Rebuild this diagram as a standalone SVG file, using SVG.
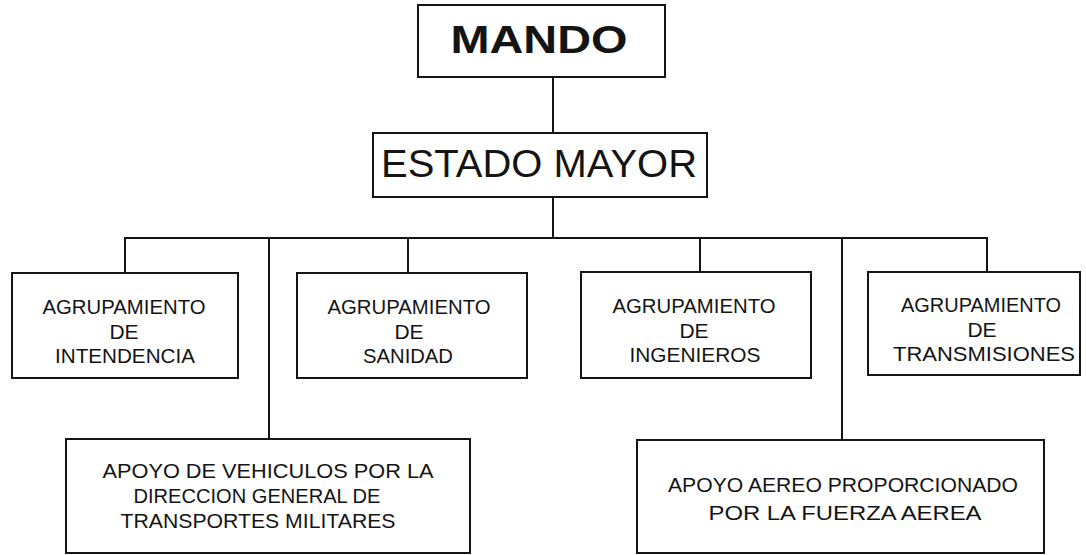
<svg xmlns="http://www.w3.org/2000/svg" width="1086" height="555" viewBox="0 0 1086 555">
<style>
.box{fill:#fff;stroke:#141414;stroke-width:2}
.conn{fill:none;stroke:#141414;stroke-width:2}
text{font-family:"Liberation Sans",Arial,sans-serif;fill:#141414;text-anchor:middle}
.t21{font-size:21px}
</style>
<rect width="1086" height="555" fill="#fff"/>
<g id="connectors">
<path class="conn" d="M553,77 V133"/>
<path class="conn" d="M553,197 V238"/>
<path class="conn" d="M125,273 V238 H987 V272"/>
<path class="conn" d="M408,238 V273"/>
<path class="conn" d="M700,238 V272"/>
<path class="conn" d="M269,238 V439"/>
<path class="conn" d="M842,238 V440"/>
</g>
<g id="mando">
<rect class="box" x="418" y="5" width="247" height="72"/>
<text x="539" y="53" font-size="38" font-weight="bold" textLength="177" lengthAdjust="spacingAndGlyphs">MANDO</text>
</g>
<g id="estado-mayor">
<rect class="box" x="373" y="133" width="334" height="64"/>
<text x="539" y="177" font-size="39" textLength="316" lengthAdjust="spacingAndGlyphs">ESTADO MAYOR</text>
</g>
<g id="intendencia">
<rect class="box" x="12" y="273" width="226" height="105"/>
<text class="t21" x="124" y="314" textLength="163" lengthAdjust="spacingAndGlyphs">AGRUPAMIENTO</text>
<text class="t21" x="124" y="339">DE</text>
<text class="t21" x="125" y="363" textLength="140" lengthAdjust="spacingAndGlyphs">INTENDENCIA</text>
</g>
<g id="sanidad">
<rect class="box" x="297" y="273" width="230" height="105"/>
<text class="t21" x="409" y="314" textLength="163" lengthAdjust="spacingAndGlyphs">AGRUPAMIENTO</text>
<text class="t21" x="409" y="339">DE</text>
<text class="t21" x="408" y="363" textLength="90" lengthAdjust="spacingAndGlyphs">SANIDAD</text>
</g>
<g id="ingenieros">
<rect class="box" x="581" y="272" width="230" height="106"/>
<text class="t21" x="694" y="313" textLength="163" lengthAdjust="spacingAndGlyphs">AGRUPAMIENTO</text>
<text class="t21" x="694" y="338">DE</text>
<text class="t21" x="695" y="362" textLength="131" lengthAdjust="spacingAndGlyphs">INGENIEROS</text>
</g>
<g id="transmisiones">
<rect class="box" x="868" y="272" width="212" height="103"/>
<text class="t21" x="981" y="312" textLength="160" lengthAdjust="spacingAndGlyphs">AGRUPAMIENTO</text>
<text class="t21" x="982" y="337">DE</text>
<text class="t21" x="984" y="361" textLength="182" lengthAdjust="spacingAndGlyphs">TRANSMISIONES</text>
</g>
<g id="vehiculos">
<rect class="box" x="66" y="439" width="404" height="114"/>
<text class="t21" x="268" y="478" textLength="331" lengthAdjust="spacingAndGlyphs">APOYO DE VEHICULOS POR LA</text>
<text class="t21" x="257" y="503" textLength="247" lengthAdjust="spacingAndGlyphs">DIRECCION GENERAL DE</text>
<text class="t21" x="258" y="528" textLength="275" lengthAdjust="spacingAndGlyphs">TRANSPORTES MILITARES</text>
</g>
<g id="aereo">
<rect class="box" x="637" y="440" width="407" height="113"/>
<text class="t21" x="843" y="492" textLength="350" lengthAdjust="spacingAndGlyphs">APOYO AEREO PROPORCIONADO</text>
<text class="t21" x="845" y="520" textLength="273" lengthAdjust="spacingAndGlyphs">POR LA  FUERZA AEREA</text>
</g>
</svg>
